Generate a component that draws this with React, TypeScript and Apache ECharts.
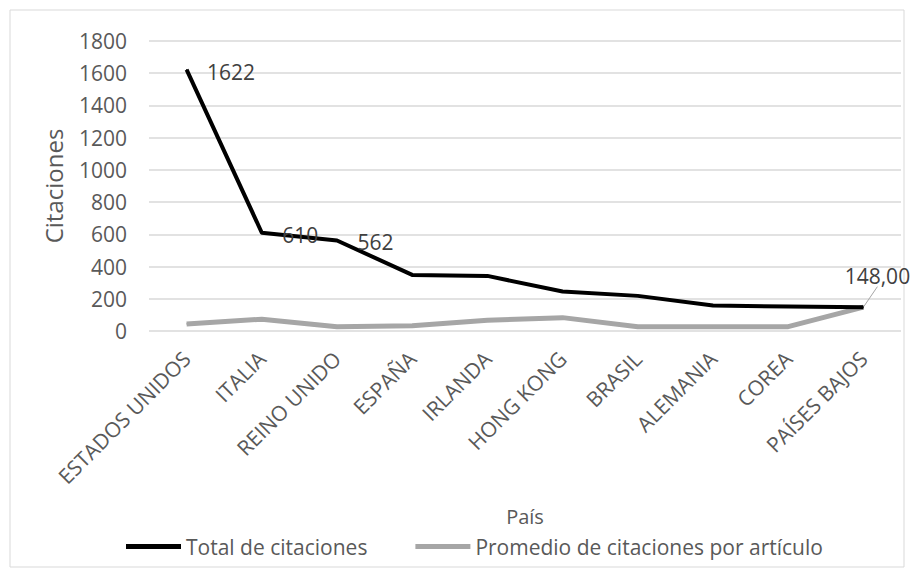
import React, { useEffect, useRef } from "react";
import * as echarts from "echarts";

const categories = ["ESTADOS UNIDOS", "ITALIA", "REINO UNIDO", "ESPAÑA", "IRLANDA", "HONG KONG", "BRASIL", "ALEMANIA", "COREA", "PAÍSES BAJOS"];
const totalCitaciones = [1622, 610, 562, 348, 342, 245, 218, 158, 152, 148];
const promedioCitaciones = [44, 73, 27, 33, 66, 83, 27, 27, 27, 148];
const yTicks = { min: 0, max: 1800, interval: 200 };
const totalLabelIdx = [0, 1, 2];
const promedioLabelIdx = [9];

const FONT = "'Open Sans', sans-serif";

export default function App() {
  const ref = useRef<HTMLDivElement>(null);
  useEffect(() => {
    if (!ref.current) return;
    const chart = echarts.init(ref.current, null, { renderer: "svg" });
    chart.setOption({
      animation: false,
      backgroundColor: "#ffffff",
      graphic: [
        {
          type: "rect",
          shape: { x: 10, y: 10, width: 894, height: 557 },
          style: { fill: "none", stroke: "#d9d9d9", lineWidth: 1 },
          silent: true,
        },
      ],
      grid: { left: 149, right: 13, top: 41, bottom: 245, containLabel: false },
      legend: {
        top: 531,
        left: 121,
        icon: "rect",
        itemWidth: 55,
        itemHeight: 5,
        itemGap: 48,
        textStyle: { fontFamily: FONT, fontSize: 21, color: "#595959" },
        data: ["Total de citaciones", "Promedio de citaciones por artículo"],
      },
      xAxis: {
        type: "category",
        data: categories,
        boundaryGap: true,
        name: "País",
        nameLocation: "middle",
        nameGap: 175,
        nameTextStyle: { fontFamily: FONT, fontSize: 20, color: "#595959" },
        axisLine: { show: false },
        axisTick: { show: false },
        axisLabel: {
          rotate: 45,
          interval: 0,
          margin: 24,
          fontFamily: FONT,
          fontSize: 21,
          color: "#595959",
        },
      },
      yAxis: {
        type: "value",
        min: yTicks.min,
        max: yTicks.max,
        interval: yTicks.interval,
        name: "Citaciones",
        nameLocation: "middle",
        nameGap: 84,
        nameTextStyle: { fontFamily: FONT, fontSize: 24, color: "#595959" },
        axisLine: { show: false },
        axisTick: { show: false },
        axisLabel: {
          fontFamily: FONT,
          fontSize: 21,
          color: "#595959",
          margin: 22,
          formatter: (v: number) => String(v),
        },
        splitLine: { lineStyle: { color: "#d9d9d9", width: 1.5 } },
      },
      series: [
        {
          name: "Total de citaciones",
          type: "line",
          data: totalCitaciones.map((v, i) => ({
            value: v,
            label: { show: totalLabelIdx.includes(i) },
          })),
          symbol: "circle",
          symbolSize: 1,
          showSymbol: true,
          z: 3,
          lineStyle: { color: "#000000", width: 4, join: "round" },
          itemStyle: { color: "#000000" },
          label: {
            position: "right",
            distance: 20,
            offset: [0, 2],
            fontFamily: FONT,
            fontSize: 21,
            color: "#404040",
          },
        },
        {
          name: "Promedio de citaciones por artículo",
          type: "line",
          data: promedioCitaciones.map((v, i) => ({
            value: v,
            label: { show: promedioLabelIdx.includes(i) },
          })),
          symbol: "circle",
          symbolSize: 1,
          showSymbol: true,
          z: 2,
          lineStyle: { color: "#a6a6a6", width: 5, join: "round" },
          itemStyle: { color: "#a6a6a6" },
          label: {
            position: "top",
            distance: 4,
            fontFamily: FONT,
            fontSize: 21,
            color: "#404040",
            formatter: (p: any) => Number(p.value).toFixed(2).replace(".", ","),
          },
          labelLine: { show: true, lineStyle: { color: "#a6a6a6", width: 1 } },
          labelLayout: { dx: 14, dy: -16 },
        },
      ],
    });
    return () => chart.dispose();
  }, []);
  return <div ref={ref} style={{ width: 914, height: 576, position: "absolute", left: 0, top: 0 }} />;
}
